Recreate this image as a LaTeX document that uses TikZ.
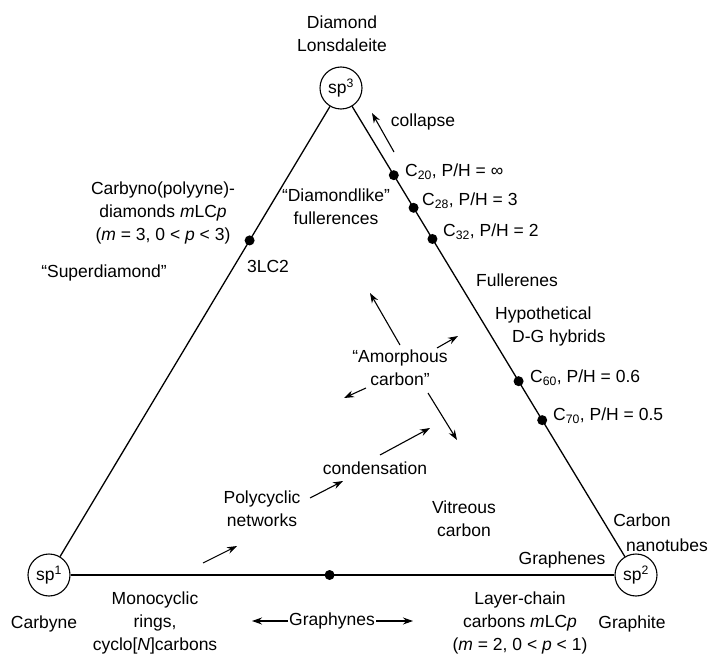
\documentclass[tikz,border=0pt]{standalone}
\usepackage{fontspec}
\setmainfont{Liberation Sans}
\usetikzlibrary{arrows.meta,calc}

\begin{document}
\begin{tikzpicture}[x=1pt,y=-1pt,
		every node/.style={font=\fontsize{17.5}{23}\selectfont, inner sep=1pt, align=center},
		hyb/.style={draw, circle, minimum size=42pt, line width=1.1pt},
		dot/.style={fill, circle, inner sep=0pt, minimum size=10pt},
		edge/.style={line width=1.3pt},
		arr/.style={-{Stealth[length=10pt,width=7pt]}, line width=1.1pt}]
				\useasboundingbox (0,0) rectangle (715,655);
				\node[hyb] (sp3) at (341,88) {sp\textsuperscript{3}};
				\node[hyb] (sp1) at (49,575) {sp\textsuperscript{1}};
				\node[hyb] (sp2) at (636,575) {sp\textsuperscript{2}};
				\draw[edge] (sp3) -- (sp1);
				\draw[edge] (sp3) -- (sp2);
				\draw[edge] (sp1) -- (sp2);
				
				\node[dot] (d3lc) at ($(sp3)!0.313!(sp1)$) {};
				\node[dot] (dgy) at ($(sp1)!0.478!(sp2)$) {};
				\node[dot] (d20) at ($(sp3)!0.179!(sp2)$) {};
				\node[dot] (d28) at ($(sp3)!0.246!(sp2)$) {};
				\node[dot] (d32) at ($(sp3)!0.310!(sp2)$) {};
				\node[dot] (d60) at ($(sp3)!0.602!(sp2)$) {};
				\node[dot] (d70) at ($(sp3)!0.682!(sp2)$) {};
				
				\node[] (diam) at (342,34) {Diamond\\Lonsdaleite};
				\node[] (carbyne) at (44,624) {Carbyne};
				\node[] (graphite) at (632,624) {Graphite};
				
				\node[] (coll) at (423,122) {collapse};
				\node[anchor=west] (c20) at (404,172) {C\textsubscript{20}, P/H = ∞};
				\node[anchor=west] (c28) at (421,201) {C\textsubscript{28}, P/H = 3};
				\node[anchor=west] (c32) at (442,232) {C\textsubscript{32}, P/H = 2};
				\node[anchor=west] (c60) at (529,378) {C\textsubscript{60}, P/H = 0.6};
				\node[anchor=west] (c70) at (552,416) {C\textsubscript{70}, P/H = 0.5};
				\node[] (fuller) at (517,280) {Fullerenes};
				\node[anchor=west, align=left] (hybr) at (494,326) {Hypothetical\\\hspace*{17pt}D-G hybrids};
				\node[] (tubes) at (642,520) {Carbon};
				\node[] (tubes2) at (667,545) {nanotubes};
				\node[] (graphenes) at (562,560) {Graphenes};
				
				\node[] (cpd) at (163,213) {Carbyno(polyyne)-\\diamonds \textit{m}LC\textit{p}\\(\textit{m} = 3, 0 < \textit{p} < 3)};
				\node[] (lc2) at (268,266) {3LC2};
				\node[] (superd) at (104,273) {``Superdiamond''};
				\node[] (dlike) at (336,207) {``Diamondlike''\\fullerences};
				
				\node[] (amorph) at (400,368) {``Amorphous\\carbon''};
				\node[] (vitr) at (464,519) {Vitreous\\carbon};
				\node[] (cond) at (375,468) {condensation};
				\node[] (poly) at (262,509) {Polycyclic\\networks};
				
				\node[] (mono) at (155,623) {Monocyclic\\rings,\\cyclo[\textit{N}]carbons};
				\node[] (gyne) at (332,621) {Graphynes};
				\node[] (lchain) at (520,623) {Layer-chain\\carbons \textit{m}LC\textit{p}\\(\textit{m} = 2, 0 < \textit{p} < 1)};
				
				\coordinate (collS) at (394,152);
				\coordinate (collE) at (372,113);
				\coordinate (amUL) at (370,293);
				\coordinate (amUR) at (458,336);
				\coordinate (amDL) at (344,398);
				\coordinate (amDR) at (457,440);
				\coordinate (condS) at (380,455);
				\coordinate (condE) at (430,428);
				\coordinate (polyS) at (310,498);
				\coordinate (polyE) at (343,481);
				\coordinate (monoS) at (203,563);
				\coordinate (monoE) at (237,546);
				\coordinate (gyneL) at (252,621);
				\coordinate (gyneR) at (413,621);
				
				\draw[arr] (collS) -- (collE);
				\draw[arr] (400,345) -- (amUL);
				\draw[arr] (437,348) -- (amUR);
				\draw[arr] (366,388) -- (amDL);
				\draw[arr] (428,393) -- (amDR);
				\draw[arr] (condS) -- (condE);
				\draw[arr] (polyS) -- (polyE);
				\draw[arr] (monoS) -- (monoE);
				\draw[arr] (gyne.west) -- (gyneL);
				\draw[arr] (gyne.east) -- (gyneR);
			\end{tikzpicture}
\end{document}
